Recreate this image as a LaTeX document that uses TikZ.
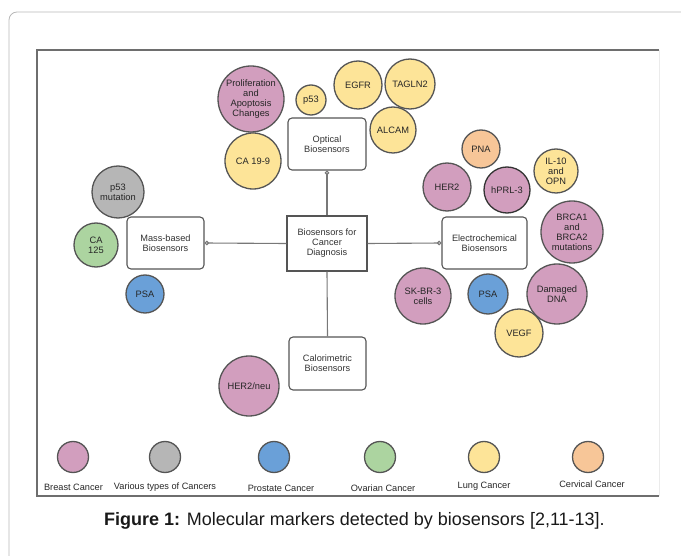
\documentclass[tikz,border=0pt]{standalone}
\usepackage{fontspec}
\setmainfont{Liberation Sans}
\usetikzlibrary{arrows.meta}

\definecolor{breastpink}{RGB}{210,158,190}
\definecolor{variousgray}{RGB}{182,182,182}
\definecolor{prostblue}{RGB}{106,160,216}
\definecolor{ovargreen}{RGB}{172,212,160}
\definecolor{lungyellow}{RGB}{253,228,152}
\definecolor{cervorange}{RGB}{247,198,152}
\definecolor{rimgray}{RGB}{85,85,85}
\definecolor{linkgray}{RGB}{120,120,120}
\definecolor{framegray}{RGB}{110,110,110}

\newcommand\bubblefont{\fontsize{9.3}{10}\selectfont}
\newcommand\boxfont{\fontsize{9.2}{10}\selectfont}
\newcommand\legendfont{\fontsize{9.2}{10}\selectfont}
\newcommand\captionfont{\fontsize{18}{20}\selectfont}

\tikzset{
  bubble/.style={circle, draw=rimgray, line width=1.3pt, inner sep=0pt, align=center, font=\bubblefont, text=black!85},
  sensorbox/.style={draw=rimgray, line width=1.1pt, rounded corners=4pt, fill=white, align=center, font=\boxfont, text=black!80, inner sep=0pt},
  hubbox/.style={sensorbox, rounded corners=0pt, line width=1.3pt},
  link/.style={draw=linkgray, line width=1.1pt},
  legendtext/.style={font=\legendfont, text=black!85},
}

% colour, diameter, name, position, text
\newcommand\marker[5]{
  \node[bubble, fill=#1, minimum size=#2] (#3) at (#4) {#5};
}

\begin{document}
\begin{tikzpicture}[x=1pt, y=-1pt]
  \useasboundingbox (0,0) rectangle (681,556);
  \clip (0,0) rectangle (681,556);
  % frames
  \draw[black!28, line width=0.8pt, rounded corners=8pt] (9,570) -- (9,12) -- (700,12);
  \draw[black!8, line width=1pt] (659,50) -- (659,496);
  \draw[framegray, line width=1.4pt] (659,496) -- (37,496) -- (37,50) -- (659,50);

  % sensors
  \node[hubbox, minimum width=80, minimum height=55] (diagnosis) at (327,243.5) {Biosensors for\\Cancer\\Diagnosis};
  \node[sensorbox, minimum width=78, minimum height=52] (optical) at (327,144) {Optical\\Biosensors};
  \node[sensorbox, minimum width=77, minimum height=52] (mass) at (165.5,243) {Mass-based\\Biosensors};
  \node[sensorbox, minimum width=85, minimum height=52] (electro) at (484.5,243) {Electrochemical\\Biosensors};
  \node[sensorbox, minimum width=77, minimum height=53] (calori) at (327.5,363.5) {Calorimetric\\Biosensors};

  \draw[link, -{Circle[open, length=4.5pt]}] (diagnosis.north) -- (optical.south);
  \draw[link, -{Circle[open, length=4.5pt]}] (diagnosis.west) -- (mass.east);
  \draw[link, -{Circle[open, length=4.5pt]}] (diagnosis.east) -- (electro.west);
  \draw[link] (diagnosis.south) -- (calori.north);

  % optical markers
  \marker{breastpink}{66}{prolif}{251,99}{Proliferation\\and\\Apoptosis\\Changes}
  \marker{lungyellow}{30}{pfiftythree}{311,100}{p53}
  \marker{lungyellow}{48}{egfr}{358,85}{EGFR}
  \marker{lungyellow}{50}{tagln}{410,84}{TAGLN2}
  \marker{lungyellow}{46}{alcam}{393,130}{ALCAM}
  \marker{lungyellow}{56}{cancernineteen}{253,161}{CA 19-9}

  % electrochemical markers
  \marker{cervorange}{38}{pna}{481,149}{PNA}
  \marker{lungyellow}{44}{ilten}{556,171}{IL-10\\and\\OPN}
  \marker{breastpink}{48}{hertwo}{447,187}{HER2}
  \node[bubble, fill=breastpink, draw=black!80, minimum size=46] (hprl) at (507,190) {hPRL-3};
  \marker{breastpink}{62}{brca}{572,232}{BRCA1\\and\\BRCA2\\mutations}
  \marker{breastpink}{56}{skbr}{423,296}{SK-BR-3\\cells}
  \marker{prostblue}{40}{psaright}{488,294}{PSA}
  \marker{breastpink}{60}{dna}{557,294}{Damaged\\DNA}
  \marker{lungyellow}{48}{vegf}{519,333}{VEGF}

  % calorimetric and mass-based markers
  \marker{breastpink}{60}{herneu}{249,386}{HER2/neu}
  \marker{variousgray}{52}{pmutation}{118,192}{p53\\mutation}
  \marker{ovargreen}{44}{catwofive}{96,245}{CA\\125}
  \marker{prostblue}{38}{psaleft}{145,294}{PSA}

  % legend
  \node[bubble, fill=breastpink, minimum width=31, minimum height=29] (keybreast) at (73,457) {};
  \node[bubble, fill=variousgray, minimum width=31, minimum height=29] (keyvarious) at (165,457) {};
  \node[bubble, fill=prostblue, minimum width=31, minimum height=29] (keyprostate) at (274,457) {};
  \node[bubble, fill=ovargreen, minimum width=31, minimum height=29] (keyovarian) at (380,457) {};
  \node[bubble, fill=lungyellow, minimum width=31, minimum height=29] (keylung) at (484,457) {};
  \node[bubble, fill=cervorange, minimum width=31, minimum height=29] (keycervical) at (588,457) {};
  \node[legendtext] (breasttext) at (73.5,487) {Breast Cancer};
  \node[legendtext] (varioustext) at (165,487) {Various types of Cancers};
  \node[legendtext] (prostatetext) at (281,488) {Prostate Cancer};
  \node[legendtext] (ovariantext) at (383,488) {Ovarian Cancer};
  \node[legendtext] (lungtext) at (484,486) {Lung Cancer};
  \node[legendtext] (cervicaltext) at (592,484) {Cervical Cancer};

  % caption
  \node[font=\captionfont, text=black!90, anchor=base] (caption) at (354.5,525) {\textbf{Figure 1:} Molecular markers detected by biosensors [2,11-13].};
\end{tikzpicture}
\end{document}
